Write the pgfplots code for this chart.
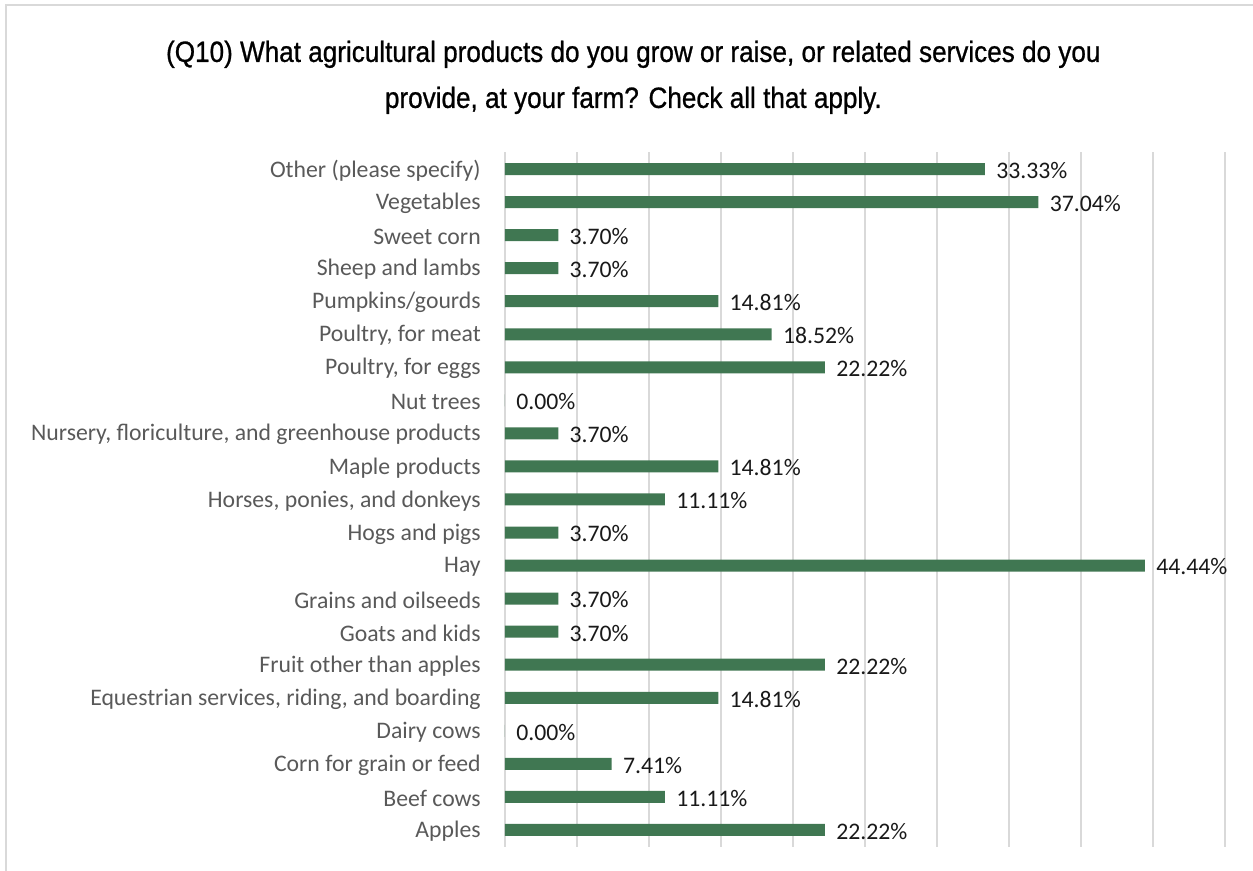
\documentclass[border=0pt]{standalone}
\usepackage{fontspec}
\setmainfont{Carlito}
\newfontfamily\titlefont[FakeStretch=0.89,FakeBold=0.8]{Liberation Sans}
\usepackage{pgfplots}
\pgfplotsset{compat=1.18}
\definecolor{bargreen}{RGB}{64,119,82}
\definecolor{gridgray}{RGB}{217,217,217}
\definecolor{labgray}{RGB}{89,89,89}
\definecolor{datagray}{RGB}{25,25,25}
\begin{document}
\begin{tikzpicture}[x=1pt,y=1pt]
\useasboundingbox (0,0) rectangle (939.75,653.25);
\draw[gridgray,line width=1pt] (4.5,0) -- (4.5,649.5) -- (939.75,649.5);
\node[font=\titlefont\fontsize{22}{26}\selectfont] at (475,612.5) {(Q10) What agricultural products do you grow or raise, or related services do you};
\node[font=\titlefont\fontsize{22}{26}\selectfont] at (475,578) {provide, at your farm? Check all that apply.};
\begin{axis}[
  at={(378.75pt,18.375pt)}, anchor=south west,
  scale only axis, width=540pt, height=520.5pt,
  xmin=0, xmax=50, ymin=-0.5, ymax=20.5,
  xbar, bar width=9pt,
  axis line style={draw=none},
  xtick={0,5,...,50}, xticklabels={},
  xmajorgrids, grid style={gridgray,line width=1pt},
  major tick length=0pt,
  ytick={0,...,20},
  yticklabels={Apples,Beef cows,Corn for grain or feed,Dairy cows,{Equestrian services, riding, and boarding},Fruit other than apples,Goats and kids,Grains and oilseeds,Hay,Hogs and pigs,{Horses, ponies, and donkeys},Maple products,{Nursery, floriculture, and greenhouse products},Nut trees,{Poultry, for eggs},{Poultry, for meat},Pumpkins/gourds,Sheep and lambs,Sweet corn,Vegetables,Other (please specify)},
  yticklabel style={font=\fontsize{17.8}{20}\selectfont, text=labgray, xshift=-14.7pt, yshift=-1pt},
  /pgf/number format/assume math mode=true,
  nodes near coords={\pgfmathprintnumber[fixed,fixed zerofill,precision=2,assume math mode=true]{\pgfplotspointmeta}\%},
  nodes near coords style={font=\fontsize{17.8}{20}\selectfont, text=datagray, anchor=west, xshift=5pt, yshift=-1pt},
  point meta=x,
  clip=false,
]
\addplot[fill=bargreen, draw=none] coordinates {
(22.22,0) (11.11,1) (7.41,2) (0.00,3) (14.81,4) (22.22,5) (3.70,6) (3.70,7) (44.44,8) (3.70,9) (11.11,10) (14.81,11) (3.70,12) (0.00,13) (22.22,14) (18.52,15) (14.81,16) (3.70,17) (3.70,18) (37.04,19) (33.33,20)
};
\end{axis}
\end{tikzpicture}
\end{document}
